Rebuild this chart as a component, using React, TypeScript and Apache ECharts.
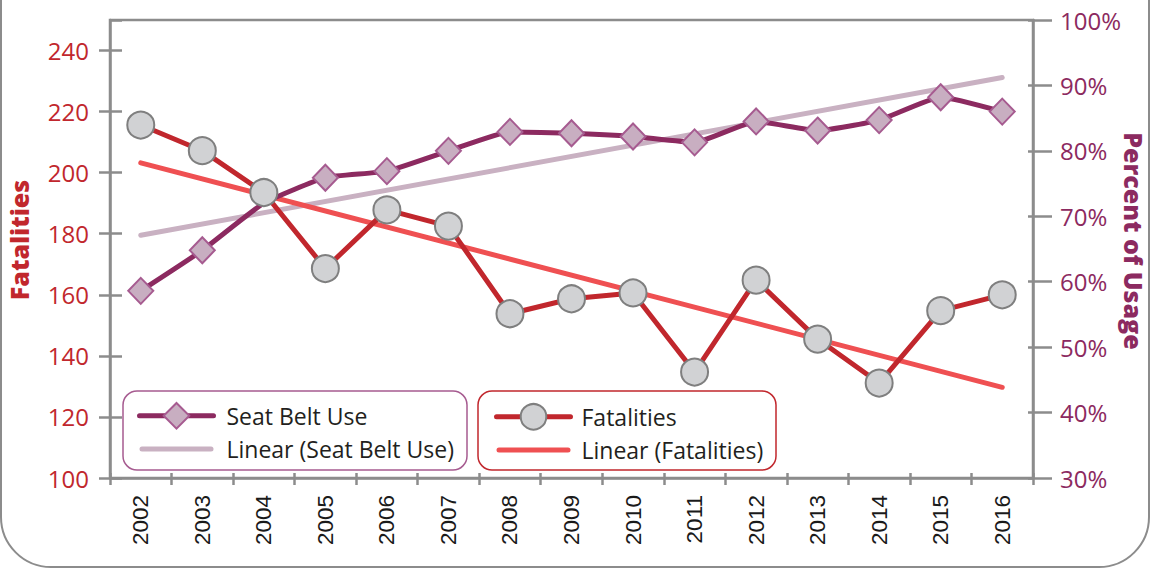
import React, { useEffect, useRef } from "react";
import * as echarts from "echarts";

const years = ["2002","2003","2004","2005","2006","2007","2008","2009","2010","2011","2012","2013","2014","2015","2016"];
const fatalities = [215.6, 207.2, 193.5, 168.6, 187.8, 182.5, 153.8, 158.7, 160.6, 134.7, 164.8, 145.5, 131.1, 154.8, 160.0];
const seatBeltUse = [58.6, 64.8, 72.0, 75.9, 76.9, 80.0, 82.9, 82.7, 82.2, 81.3, 84.5, 83.1, 84.7, 88.2, 86.0];
// the 2004 seat-belt marker is not drawn in the reference
const seatBeltHiddenMarker = [2];
// trend lines: [category index, value] end points
const seatBeltTrend: [number, number][] = [[0, 67.1], [14, 91.2]];
const fatalitiesTrend: [number, number][] = [[0, 203.2], [14, 129.7]];

const RED = "#c1272d";
const RED_TREND = "#ef5052";
const PURPLE = "#8c2a60";
const PURPLE_TREND = "#c9b1c2";
const GRAY = "#8c8c8c";
const TXT_FONT = '"Open Sans", sans-serif';
const lineIcon = "path://M2.5,0H71.5A2.5,2.5,0,0,1,71.5,5H2.5A2.5,2.5,0,0,1,2.5,0Z";

export default function App() {
  const ref = useRef<HTMLDivElement>(null);
  useEffect(() => {
    document.body.style.margin = "0";
    const chart = echarts.init(ref.current!, null, { renderer: "svg" });
    const leftAxisBase = {
      type: "value", min: 100, max: 250, interval: 20, position: "left",
      splitLine: { show: false },
    };
    const rightAxisBase = {
      type: "value", min: 30, max: 100, interval: 10, position: "right",
      splitLine: { show: false },
    };
    const legendCommon = {
      orient: "vertical",
      itemWidth: 74,
      itemHeight: 32,
      itemGap: 8,
      padding: 0,
      selectedMode: false,
      lineStyle: { width: 5, cap: "round" },
      textStyle: { fontFamily: TXT_FONT, fontSize: 23, color: "#231f20", padding: [0, 0, 0, 8] },
    };
    chart.setOption({
      animation: false,
      grid: { left: 110, right: 118, top: 20, bottom: 91, show: true, borderColor: GRAY, borderWidth: 2.5, backgroundColor: "transparent" },
      xAxis: [
        {
          type: "category", data: years, boundaryGap: true,
          axisLine: { lineStyle: { color: GRAY, width: 2.5 } },
          axisTick: { show: true, interval: 0, length: 7, lineStyle: { color: GRAY, width: 2.5 } },
          axisLabel: { interval: 0, rotate: 90, margin: 17, fontFamily: '"Liberation Sans", Arial, sans-serif', fontSize: 22.5, color: "#1a1a1a" },
        },
        {
          type: "category", data: years, boundaryGap: true, position: "bottom",
          axisLine: { show: false },
          axisTick: { show: true, inside: true, interval: 0, length: 5, lineStyle: { color: GRAY, width: 2.5 } },
          axisLabel: { show: false },
        },
      ],
      yAxis: [
        {
          ...leftAxisBase,
          axisLine: { show: true, lineStyle: { color: GRAY, width: 2.5 } },
          axisTick: { show: true, length: 11, lineStyle: { color: GRAY, width: 2.5 } },
          axisLabel: { margin: 21, showMaxLabel: false, fontFamily: TXT_FONT, fontSize: 24, color: RED },
        },
        {
          ...rightAxisBase,
          axisLine: { show: true, lineStyle: { color: GRAY, width: 2.5 } },
          axisTick: { show: true, length: 19, lineStyle: { color: GRAY, width: 2.5 } },
          axisLabel: { margin: 27, formatter: "{value}%", fontFamily: TXT_FONT, fontSize: 24, color: PURPLE },
        },
        {
          ...leftAxisBase,
          axisLine: { show: false },
          axisTick: { show: true, inside: true, length: 12, lineStyle: { color: GRAY, width: 2.5 } },
          axisLabel: { show: false },
        },
        {
          ...rightAxisBase,
          axisLine: { show: false },
          axisTick: { show: true, inside: true, length: 5, lineStyle: { color: GRAY, width: 2.5 } },
          axisLabel: { show: false },
        },
      ],
      legend: [
        { ...legendCommon, left: 137, top: 402, data: ["Seat Belt Use", { name: "Linear (Seat Belt Use)", icon: lineIcon }] },
        { ...legendCommon, left: 494, top: 403, textStyle: { ...legendCommon.textStyle, padding: [0, 0, 0, 6] }, data: ["Fatalities", { name: "Linear (Fatalities)", icon: lineIcon }] },
      ],
      graphic: [
        { type: "rect", z: 0, silent: true, shape: { x: 1, y: -200, width: 1148, height: 767, r: 50 }, style: { fill: "none", stroke: GRAY, lineWidth: 2 } },
        { type: "rect", z: 0, silent: true, shape: { x: 123, y: 391, width: 344, height: 79, r: 14 }, style: { fill: "#ffffff", stroke: "#a65b90", lineWidth: 1.5 } },
        { type: "rect", z: 0, silent: true, shape: { x: 478, y: 391, width: 298, height: 79, r: 14 }, style: { fill: "#ffffff", stroke: RED, lineWidth: 1.5 } },
        { type: "text", x: 19, y: 240, rotation: Math.PI / 2, style: { text: "Fatalities", fontFamily: TXT_FONT, fontWeight: 900, fontSize: 25, fill: RED, align: "center", verticalAlign: "middle" } },
        { type: "text", x: 1134, y: 241, rotation: -Math.PI / 2, style: { text: "Percent of Usage", fontFamily: TXT_FONT, fontWeight: 900, fontSize: 25, fill: PURPLE, align: "center", verticalAlign: "middle" } },
      ],
      series: [
        {
          name: "Linear (Seat Belt Use)", type: "line", yAxisIndex: 1, data: seatBeltTrend, symbol: "none",
          itemStyle: { color: PURPLE_TREND }, lineStyle: { color: PURPLE_TREND, width: 5, cap: "round" }, z: 2,
        },
        {
          name: "Linear (Fatalities)", type: "line", yAxisIndex: 0, data: fatalitiesTrend, symbol: "none",
          itemStyle: { color: RED_TREND }, lineStyle: { color: RED_TREND, width: 5, cap: "round" }, z: 2,
        },
        {
          name: "Seat Belt Use", type: "line", yAxisIndex: 1,
          data: seatBeltUse.map((v, i) => (seatBeltHiddenMarker.includes(i) ? { value: v, symbol: "none" } : v)),
          smooth: 0.15,
          symbol: "diamond", symbolSize: [25, 26],
          itemStyle: { color: "#c8aec1", borderColor: "#a65b90", borderWidth: 2 },
          lineStyle: { color: PURPLE, width: 5, cap: "round" }, z: 3,
        },
        {
          name: "Fatalities", type: "line", yAxisIndex: 0, data: fatalities,
          symbol: "circle", symbolSize: 27,
          itemStyle: { color: "#d1d2d4", borderColor: "#7f7f7f", borderWidth: 2 },
          lineStyle: { color: RED, width: 5, cap: "round" }, z: 4,
        },
      ],
    });
    return () => chart.dispose();
  }, []);
  return <div ref={ref} style={{ width: 1151, height: 569 }} />;
}
